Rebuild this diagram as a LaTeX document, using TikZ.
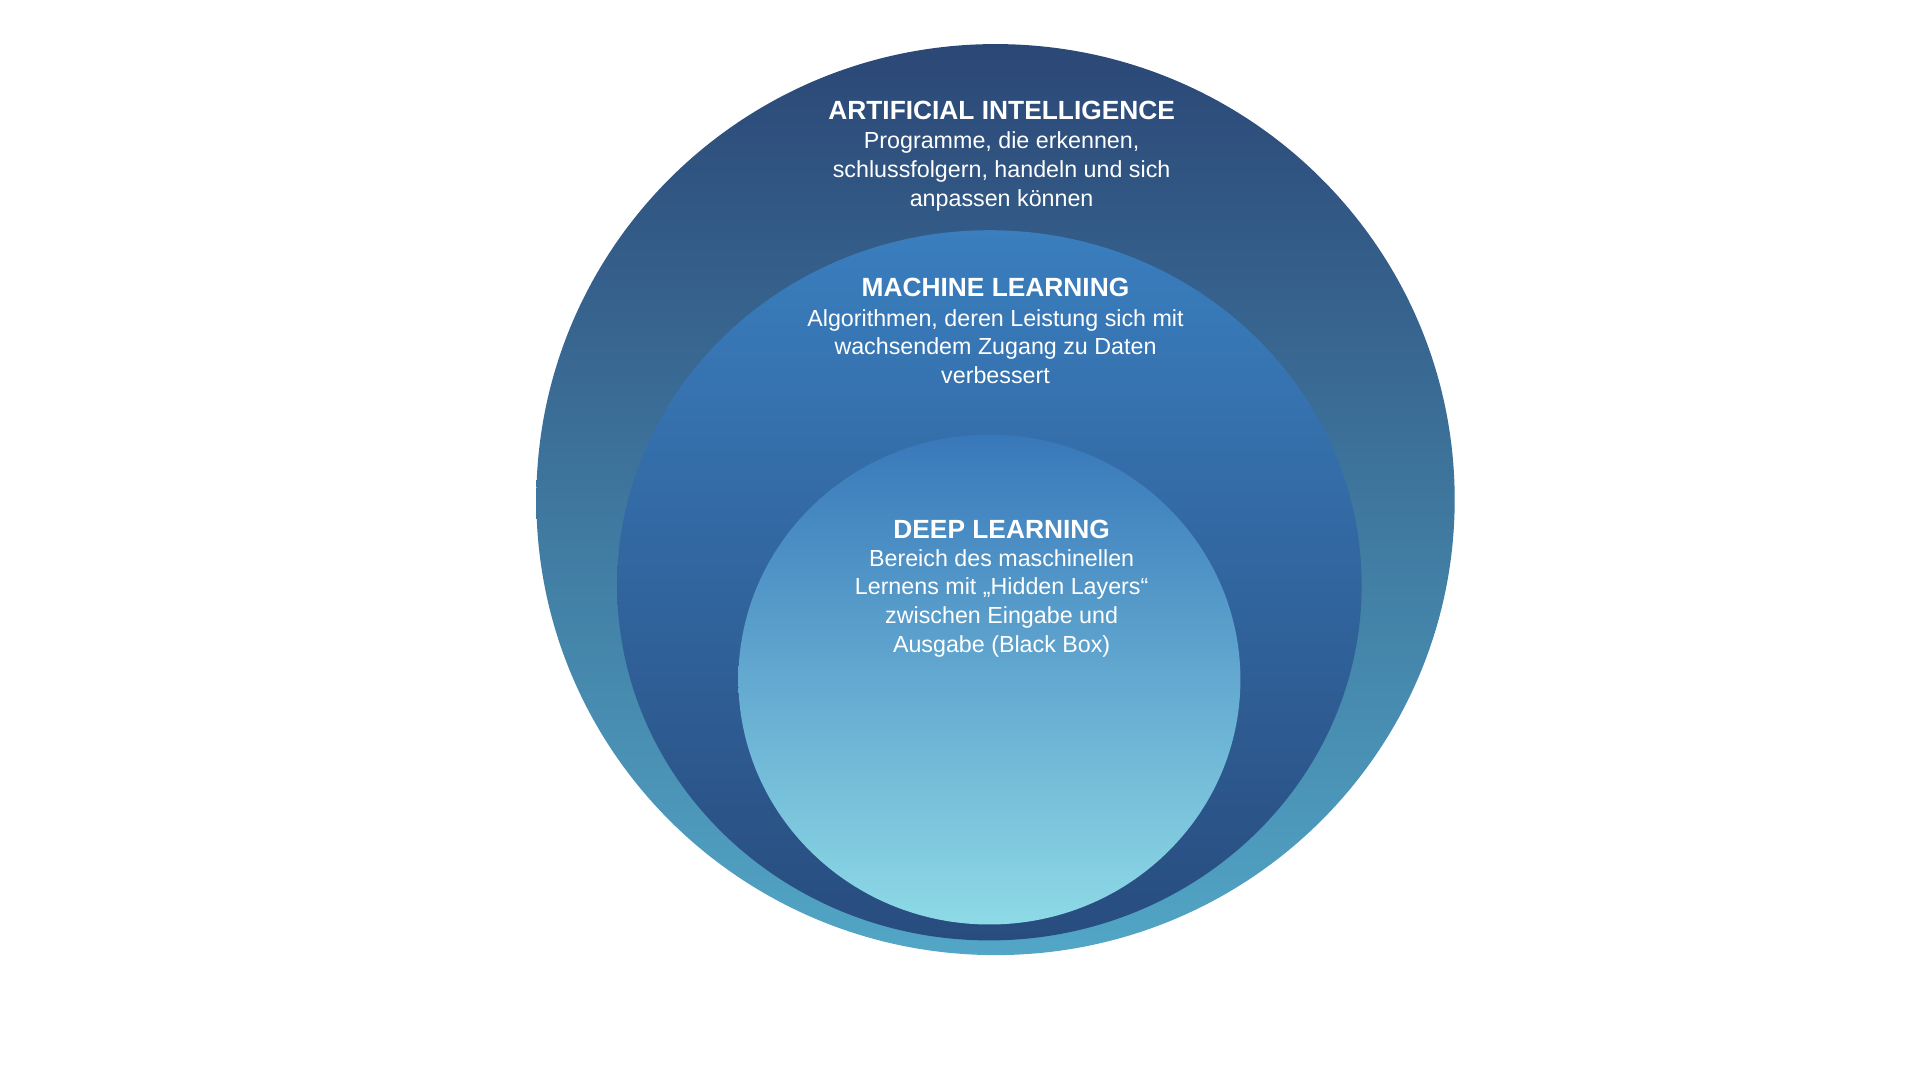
\documentclass[tikz,border=0pt]{standalone}
\usepackage{fontspec}
\setmainfont{Liberation Sans}
\begin{document}
\begin{tikzpicture}[x=1pt,y=-1pt,
  lbl/.style={text=white,align=center,font=\fontsize{19}{23.5}\selectfont},
  ttl/.style={text=white,font=\fontsize{21.5}{24}\selectfont\bfseries}]
\useasboundingbox (0,0) rectangle (1568,882);
\shade[top color={rgb,255:red,43;green,71;blue,118},bottom color={rgb,255:red,82;green,166;blue,198}] (813,408) ellipse [x radius=375,y radius=372];
\shade[top color={rgb,255:red,58;green,126;blue,190},bottom color={rgb,255:red,40;green,76;blue,126}] (808,478) ellipse [x radius=304,y radius=290];
\shade[top color={rgb,255:red,56;green,120;blue,186},bottom color={rgb,255:red,142;green,218;blue,230}] (808,555) ellipse [x radius=205,y radius=200];
\node[ttl] (ait) at (818,90) {ARTIFICIAL INTELLIGENCE};
\node[lbl,anchor=north] (aib) at (818,104) {Programme, die erkennen,\\schlussfolgern, handeln und sich\\anpassen können};
\node[ttl] (mlt) at (813,235) {MACHINE LEARNING};
\node[lbl,anchor=north] (mlb) at (813,249) {Algorithmen, deren Leistung sich mit\\wachsendem Zugang zu Daten\\verbessert};
\node[ttl] (dlt) at (818,432) {DEEP LEARNING};
\node[lbl,anchor=north] (dlb) at (818,445) {Bereich des maschinellen\\Lernens mit „Hidden Layers“\\zwischen Eingabe und\\Ausgabe (Black Box)};
\end{tikzpicture}
\end{document}
